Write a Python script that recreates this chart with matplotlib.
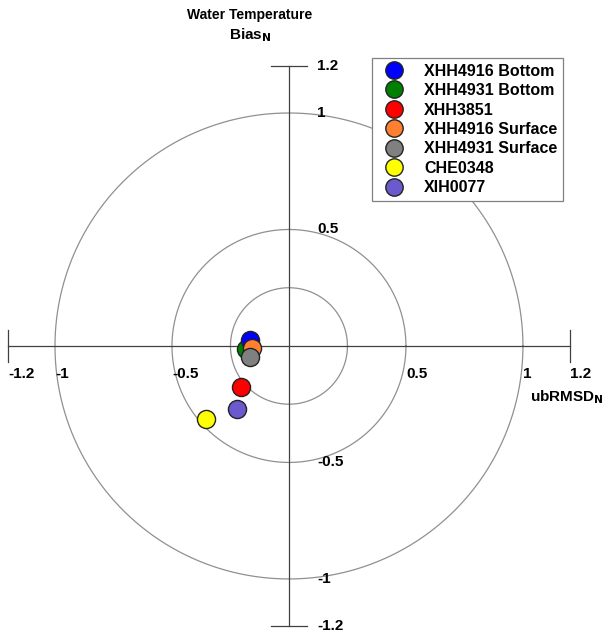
import numpy as np
import matplotlib.pyplot as plt

plt.rcParams['font.family'] = ['Liberation Sans', 'DejaVu Sans']

stations = ['XHH4916 Bottom', 'XHH4931 Bottom', 'XHH3851', 'XHH4916 Surface',
            'XHH4931 Surface', 'CHE0348', 'XIH0077']
colors = ['#0000ff', '#008000', '#ff0000', '#ff8030', '#808080', '#ffff00', '#6a5acd']
ubrmsd = [-0.167, -0.184, -0.205, -0.158, -0.167, -0.355, -0.222]
bias = [0.026, -0.013, -0.176, -0.009, -0.047, -0.313, -0.270]
# draw order so blue/orange/gray overlap like the reference
order = [1, 0, 3, 4, 2, 6, 5]

radii = [0.25, 0.5, 1.0]
x_ticks = [-1.2, -1, -0.5, 0.5, 1, 1.2]
x_labels = ['-1.2', '-1', '-0.5', '0.5', '1', '1.2']
y_ticks = [1.2, 1, 0.5, -0.5, -1, -1.2]
y_labels = ['1.2', '1', '0.5', '-0.5', '-1', '-1.2']

fig = plt.figure(figsize=(6.06, 6.33), dpi=100)
ax = fig.add_axes([0, 0, 1, 1])
ax.set_xlim(-1.235, 1.355)
ax.set_ylim(-1.232, 1.485)
ax.axis('off')

t = np.linspace(0, 2 * np.pi, 400)
for r in radii:
    ax.plot(r * np.cos(t), r * np.sin(t), color='#909090', lw=0.9, zorder=1)

# axes lines and end ticks
ax.plot([-1.2, 1.2], [0, 0], color='#404040', lw=0.9, zorder=2)
ax.plot([0, 0], [-1.2, 1.2], color='#404040', lw=0.9, zorder=2)
tk = 0.07
ax.plot([-1.2, -1.2], [-tk, tk], color='#404040', lw=0.9)
ax.plot([1.2, 1.2], [-tk, tk], color='#404040', lw=0.9)
ax.plot([-0.078, 0.078], [1.2, 1.2], color='#404040', lw=0.9)
ax.plot([-0.078, 0.078], [-1.2, -1.2], color='#404040', lw=0.9)

fs = 11
for v, lab in zip(x_ticks, x_labels):
    ax.text(v, -0.122, lab, ha='left', va='center', fontsize=fs, fontweight='bold')
for v, lab in zip(y_ticks, y_labels):
    ax.text(0.12, v, lab, ha='left', va='center', fontsize=fs, fontweight='bold')

ax.text(-0.167, 1.42, 'Water Temperature', ha='center', va='center',
        fontsize=10, fontweight='bold')
ax.text(-0.167, 1.335, r'Bias$_{\mathbf{N}}$', ha='center', va='center',
        fontsize=11, fontweight='bold')
ax.text(1.03, -0.22, r'ubRMSD$_{\mathbf{N}}$', ha='left', va='center',
        fontsize=11, fontweight='bold')

for i in order:
    ax.scatter(ubrmsd[i], bias[i], s=170, color=colors[i], edgecolor='#222222',
               linewidth=1.0, zorder=5)

handles = [plt.Line2D([], [], marker='o', ls='', markersize=12.5,
                      markerfacecolor=c, markeredgecolor='#222222')
           for c in colors]
leg = ax.legend(handles, stations, loc='upper left',
                bbox_to_anchor=(372 / 606, 1 - 58 / 633),
                fancybox=False, edgecolor='#808080', framealpha=1,
                prop={'weight': 'bold', 'size': 11.5},
                handletextpad=0.9, labelspacing=0.28, borderpad=0.35,
                handlelength=2.0, borderaxespad=0)
leg.get_frame().set_linewidth(0.9)

fig.savefig('out.png', dpi=100)
